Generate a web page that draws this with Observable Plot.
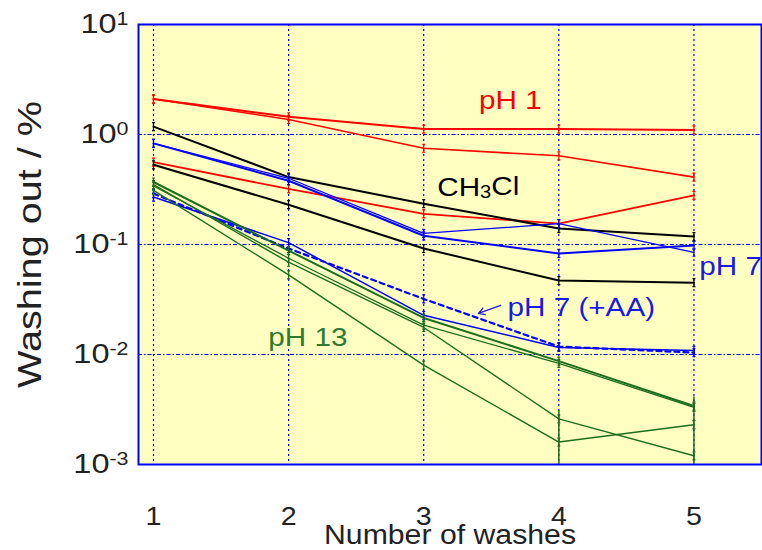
<!DOCTYPE html>
<html>
<head>
<meta charset="utf-8">
<script src="https://cdn.jsdelivr.net/npm/d3@7"></script>
<script src="https://cdn.jsdelivr.net/npm/@observablehq/plot@0.6"></script>
<style>
  html, body { margin: 0; padding: 0; background: #fff; }
  #chart { width: 762px; height: 550px; }
</style>
</head>
<body>
<div id="chart"></div>
<script>
// ---- data ----
const washes = [1, 2, 3, 4, 5];
const yTicks = [0.001, 0.01, 0.1, 1, 10];

const pH1_a = [2.1, 1.45, 1.12, 1.12, 1.1];
const pH1_b = [2.1, 1.37, 0.75, 0.64, 0.41];
const pH1_c = [0.56, 0.32, 0.19, 0.155, 0.28];
const ch3cl_a = [1.18, 0.41, 0.235, 0.14, 0.118];
const ch3cl_b = [0.53, 0.23, 0.092, 0.047, 0.045];
const pH7_a = [0.83, 0.40, 0.126, 0.155, 0.085];
const pH7_b = [0.83, 0.38, 0.12, 0.083, 0.098];
const pH7AA_solid = [0.27, 0.104, 0.0227, 0.0116, 0.0109];
const pH7AA_dashed = [0.29, 0.092, 0.032, 0.0118, 0.0104];
const pH13_a = [0.37, 0.088, 0.0215, 0.0087, 0.0034];
const pH13_b = [0.34, 0.075, 0.0185, 0.0083, 0.0033];
const pH13_c = [0.35, 0.069, 0.0176, 0.0026, 0.0012];
const pH13_d = [0.31, 0.053, 0.0080, 0.0016, 0.0023];

// large error bars on the pH 13 series
const errX = [4, 5];
const errHi = [0.0031, 0.0041];
const errLo = [0.001, 0.001];

// annotation labels
const labelText = ["pH 1", "CH3Cl", "pH 7", "pH 7 (+AA)", "pH 13"];
const labelX = [3.41, 3.10, 5.04, 3.62, 1.85];
const labelY = [2.05, 0.33, 0.063, 0.0268, 0.0143];
const labelColor = ["#ff0000", "#000000", "#1a1ae6", "#1a1ae6", "#2e7a2e"];
const arrowX1 = [3.57], arrowY1 = [0.0279], arrowX2 = [3.405], arrowY2 = [0.0236];

const RED = "#ff0000", BLACK = "#000000", BLUE = "#0000ff", GREEN = "#1c6e1c";

const series = [
  {v: pH1_a, c: RED, w: 2},
  {v: pH1_b, c: RED, w: 1.6},
  {v: pH1_c, c: RED, w: 1.8},
  {v: ch3cl_a, c: BLACK, w: 2},
  {v: ch3cl_b, c: BLACK, w: 2},
  {v: pH7_a, c: BLUE, w: 1.3},
  {v: pH7_b, c: BLUE, w: 2},
  {v: pH7AA_solid, c: BLUE, w: 1.5},
  {v: pH7AA_dashed, c: BLUE, w: 2.2, dash: "5,4"},
  {v: pH13_a, c: GREEN, w: 2},
  {v: pH13_b, c: GREEN, w: 1.3},
  {v: pH13_c, c: GREEN, w: 1.4},
  {v: pH13_d, c: GREEN, w: 1.4}
];

const vtick = {
  draw(ctx, size) {
    const h = 4;
    ctx.moveTo(0, -h); ctx.lineTo(0, h);
    ctx.moveTo(-1.5, -h); ctx.lineTo(1.5, -h);
    ctx.moveTo(-1.5, h); ctx.lineTo(1.5, h);
  }
};

const marks = [
  Plot.frame({fill: "#ffffc2", stroke: null}),
  Plot.gridX(washes, {stroke: BLUE, strokeOpacity: 1, strokeWidth: 1.2, strokeDasharray: "2,3"}),
  Plot.gridY(yTicks, {stroke: BLUE, strokeOpacity: 1, strokeWidth: 1.2, strokeDasharray: "4,2,1.5,2"})
];

for (const s of series) {
  const rows = washes.map((x, i) => ({x, y: s.v[i]}));
  marks.push(Plot.line(rows, {x: "x", y: "y", stroke: s.c, strokeWidth: s.w, strokeDasharray: s.dash}));
  marks.push(Plot.dot(rows, {x: "x", y: "y", stroke: s.c, strokeWidth: 1.2, symbol: vtick, r: 3, fill: "none"}));
}

const errRows = errX.map((x, i) => ({x, hi: errHi[i], lo: errLo[i]}));
marks.push(Plot.ruleX(errRows, {x: "x", y1: "lo", y2: "hi", stroke: GREEN, strokeWidth: 1.5}));

const labelRows = labelText.map((t, i) => ({t, x: labelX[i], y: labelY[i], c: labelColor[i]}));
marks.push(Plot.text(labelRows, {x: "x", y: "y", text: "t", fill: "c", textAnchor: "start", fontSize: 26.5}));

const arrowRows = arrowX1.map((x, i) => ({x1: x, y1: arrowY1[i], x2: arrowX2[i], y2: arrowY2[i]}));
marks.push(Plot.arrow(arrowRows, {x1: "x1", y1: "y1", x2: "x2", y2: "y2", stroke: "#1a1ae6", strokeWidth: 1.3, headLength: 8}));

marks.push(Plot.frame({stroke: BLUE, strokeWidth: 2}));

marks.push(Plot.axisX(washes, {tickSize: 0, tickPadding: 42, fontSize: 26, label: null, tickFormat: d => String(d), fill: "#222"}));
marks.push(Plot.axisY(yTicks, {tickSize: 0, tickPadding: 10, fontSize: 28, label: null,
  tickFormat: d => "10^" + Math.round(Math.log10(d)), fill: "#222"}));

marks.push(Plot.text(["Number of washes"], {frameAnchor: "bottom", lineAnchor: "middle", textAnchor: "middle", dy: 71, fontSize: 27, fill: "#222"}));
marks.push(Plot.text(["Washing out / %"], {frameAnchor: "left", lineAnchor: "middle", textAnchor: "middle", dx: -108, rotate: -90, fontSize: 33, fill: "#222"}));

const chart = Plot.plot({
  width: 762,
  height: 550,
  marginLeft: 138,
  marginRight: 1,
  marginTop: 24,
  marginBottom: 86,
  style: {fontFamily: "'Liberation Sans', Arial, sans-serif", background: "#fff", overflow: "visible"},
  x: {domain: [0.889, 5.5], axis: null},
  y: {type: "log", domain: [0.001, 10], axis: null},
  marks
});

document.getElementById("chart").appendChild(chart);

// widen glyphs a little along the text direction (reference lettering is broad)
function widen(el, k) {
  const tr = el.getAttribute("transform");
  if (tr) {
    el.setAttribute("transform", tr + ` scale(${k},1)`);
  } else {
    const x = +el.getAttribute("x") || 0, y = +el.getAttribute("y") || 0;
    el.removeAttribute("x"); el.removeAttribute("y");
    el.setAttribute("transform", `translate(${x},${y}) scale(${k},1)`);
  }
}

d3.select(chart).selectAll("text").each(function () {
  const t = this.textContent;
  const sel = d3.select(this);
  if (/^10\^-?\d+$/.test(t)) {
    widen(this, 1.16);
    const [b, e] = t.split("^");
    sel.text(null);
    sel.append("tspan").text(b);
    sel.append("tspan").attr("dy", "-0.45em").attr("font-size", "0.66em").text(e);
  } else if (t === "CH3Cl") {
    widen(this, 1.12);
    sel.text(null);
    sel.append("tspan").text("CH");
    sel.append("tspan").attr("font-size", "0.68em").attr("dy", "0.12em").text("3");
    sel.append("tspan").attr("dy", "-0.12em").text("Cl");
  } else if (/^[1-5]$/.test(t)) {
    widen(this, 1.1);
  } else if (t === "Number of washes") {
    widen(this, 1.12);
  } else if (t === "Washing out / %") {
    widen(this, 1.2);
  } else if (labelText.includes(t)) {
    widen(this, 1.12);
  }
});
</script>
</body>
</html>
